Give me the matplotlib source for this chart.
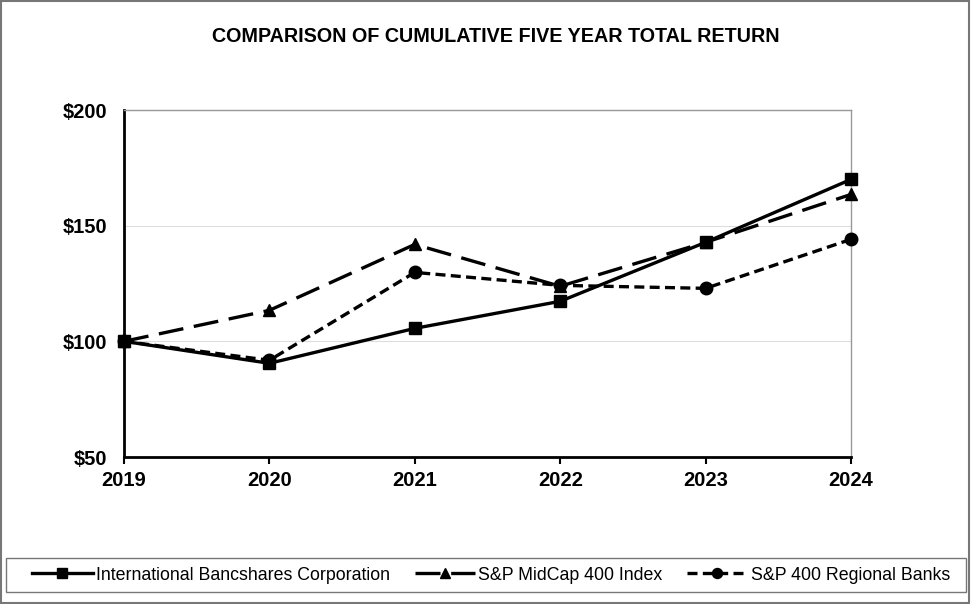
import matplotlib
matplotlib.use("Agg")
import matplotlib.pyplot as plt
from matplotlib.patches import Rectangle
from matplotlib.ticker import FuncFormatter

plt.rcParams['font.family'] = ['Liberation Sans', 'DejaVu Sans']

years = [2019, 2020, 2021, 2022, 2023, 2024]
ibc = [100.0, 90.5, 105.6, 117.3, 142.8, 170.0]
midcap = [100.0, 113.4, 141.9, 123.8, 142.8, 163.5]
regional = [100.0, 91.8, 129.8, 124.2, 122.9, 144.1]
labels = ["International Bancshares Corporation",
          "S&P MidCap 400 Index",
          "S&P 400 Regional Banks"]

fig = plt.figure(figsize=(9.71, 6.04), dpi=100)
ax = fig.add_axes([124 / 971, 1 - 457 / 604, 727 / 971, 347 / 604])

# outer border of the whole picture
fig.patches.append(Rectangle((0.001, 0.001), 0.997, 0.997, transform=fig.transFigure,
                             fill=False, edgecolor="#777777", linewidth=1.5))
# legend box
fig.patches.append(Rectangle((6 / 971, 12 / 604), 960 / 971, 34 / 604,
                             transform=fig.transFigure, fill=False,
                             edgecolor="#777777", linewidth=1.0))

lw = 2.4
h1, = ax.plot(years, ibc, color="black", lw=lw, marker="s", markersize=9,
              label=labels[0], zorder=5, clip_on=False)
h2, = ax.plot(years, midcap, color="black", lw=lw, marker="^", markersize=9,
              dashes=(7.5, 3.2), label=labels[1], zorder=4, clip_on=False)
h3, = ax.plot(years, regional, color="black", lw=lw, marker="o", markersize=9,
              dashes=(3.0, 1.6), label=labels[2], zorder=3, clip_on=False)

ax.set_xlim(2019, 2024)
ax.set_ylim(50, 200)
ax.set_yticks([50, 100, 150, 200])
ax.set_xticks(years)
ax.yaxis.set_major_formatter(FuncFormatter(lambda v, p: f"${v:.0f}"))
ax.grid(axis="y", color="#dddddd", lw=0.8)
ax.set_axisbelow(True)

for s in ["left", "bottom"]:
    ax.spines[s].set_color("black")
    ax.spines[s].set_linewidth(2.0)
for s in ["top", "right"]:
    ax.spines[s].set_color("#999999")
    ax.spines[s].set_linewidth(1.0)

ax.tick_params(axis="y", length=0, pad=12)
ax.tick_params(axis="x", length=5, width=1.5, direction="out", pad=5)
for t in ax.get_xticklabels() + ax.get_yticklabels():
    t.set_fontweight("bold")
    t.set_fontsize(14.5)

fig.text(496 / 971, 1 - 37 / 604, "COMPARISON OF CUMULATIVE FIVE YEAR TOTAL RETURN",
         ha="center", va="center", fontsize=14.2, fontweight="bold")

leg = fig.legend(handles=[h1, h2, h3], loc="center", ncol=3,
                 bbox_to_anchor=(491 / 971, 29 / 604),
                 frameon=False, fontsize=12.8,
                 handlelength=3.4, handletextpad=0.17, columnspacing=1.4,
                 borderaxespad=0, markerscale=0.8)

fig.savefig("out.png", dpi=100)
